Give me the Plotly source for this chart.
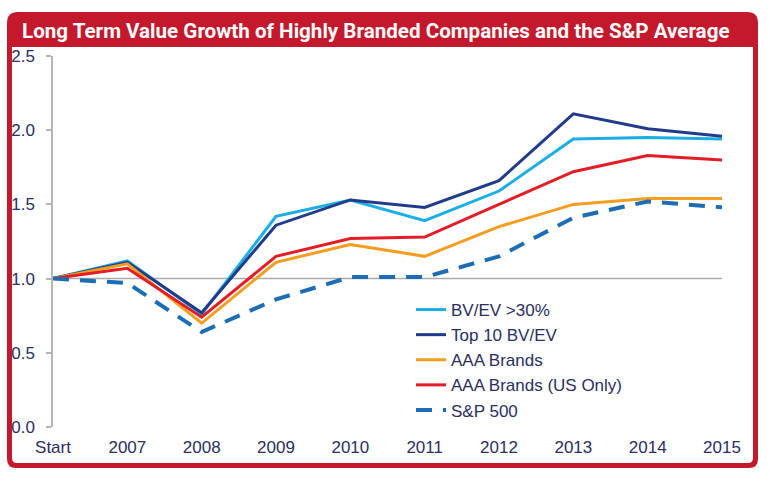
import plotly.graph_objects as go

categories = ["Start", "2007", "2008", "2009", "2010", "2011", "2012", "2013", "2014", "2015"]
bvev_30 = [1.00, 1.12, 0.76, 1.42, 1.53, 1.39, 1.59, 1.94, 1.95, 1.94]
top10_bvev = [1.00, 1.11, 0.77, 1.36, 1.53, 1.48, 1.66, 2.11, 2.01, 1.96]
aaa_brands = [1.00, 1.10, 0.70, 1.11, 1.23, 1.15, 1.35, 1.50, 1.54, 1.54]
aaa_brands_us = [1.00, 1.07, 0.74, 1.15, 1.27, 1.28, 1.50, 1.72, 1.83, 1.80]
sp500 = [1.00, 0.97, 0.64, 0.86, 1.01, 1.01, 1.15, 1.41, 1.52, 1.48]
y_ticks = [0.0, 0.5, 1.0, 1.5, 2.0, 2.5]

W, H = 770, 482
L, R, T, B = 53, 48, 56, 55
PW, PH = W - L - R, H - T - B

def px(x):
    return (x - L) / PW

def py(y):
    return (H - B - y) / PH

def rrect(x0, y0, x1, y1, rt, rb):
    p = (f"M {px(x0 + rt)},{py(y0)} L {px(x1 - rt)},{py(y0)} "
         f"Q {px(x1)},{py(y0)} {px(x1)},{py(y0 + rt)} "
         f"L {px(x1)},{py(y1 - rb)} Q {px(x1)},{py(y1)} {px(x1 - rb)},{py(y1)} "
         f"L {px(x0 + rb)},{py(y1)} Q {px(x0)},{py(y1)} {px(x0)},{py(y1 - rb)} "
         f"L {px(x0)},{py(y0 + rt)} Q {px(x0)},{py(y0)} {px(x0 + rt)},{py(y0)} Z")
    return p

series = [
    ("BV/EV >30%", bvev_30, "#1aaee5", "solid", 3),
    ("Top 10 BV/EV", top10_bvev, "#213b8c", "solid", 3),
    ("AAA Brands", aaa_brands, "#f59d1f", "solid", 3),
    ("AAA Brands (US Only)", aaa_brands_us, "#e31c25", "solid", 3),
    ("S&P 500", sp500, "#1c6db4", "16px,11px", 4),
]

fig = go.Figure()
for name, vals, color, dash, w in series:
    fig.add_trace(go.Scatter(x=categories, y=vals, mode="lines", name=name,
                             line=dict(color=color, width=w, dash=dash)))

shapes = [
    dict(type="path", xref="paper", yref="paper", path=rrect(7, 12, 758, 468, 11, 9),
         fillcolor="#c4182c", line=dict(width=0), layer="below"),
    dict(type="path", xref="paper", yref="paper", path=rrect(12, 47, 753, 463, 0, 5),
         fillcolor="white", line=dict(width=0), layer="below"),
    dict(type="line", xref="x", yref="y", x0=0, x1=9, y0=1, y1=1,
         line=dict(color="#aaaaaa", width=1.5), layer="below"),
]

fig.update_layout(
    width=W, height=H,
    margin=dict(l=L, r=R, t=T, b=B),
    paper_bgcolor="white",
    plot_bgcolor="rgba(0,0,0,0)",
    shapes=shapes,
    showlegend=True,
    legend=dict(x=px(411), y=py(292), xanchor="left", yanchor="top",
                bgcolor="rgba(0,0,0,0)",
                font=dict(family="Liberation Sans, Arial, sans-serif", size=17, color="#2b2e5e"),
                tracegroupgap=0),
    annotations=[dict(text="<b>Long Term Value Growth of Highly Branded Companies and the S&P Average</b>",
                      xref="paper", yref="paper", x=px(20), y=py(31), xanchor="left", yanchor="middle",
                      showarrow=False,
                      font=dict(family="Roboto, Lato, sans-serif", size=20.6, color="white"))],
    font=dict(family="Liberation Sans, Arial, sans-serif", size=17, color="#2b2e5e"),
)

fig.update_xaxes(type="category", range=[0, 9], showgrid=False, showline=False, zeroline=False,
                 ticks="", tickfont=dict(size=17, color="#2b2e5e"), ticklabelstandoff=8)
fig.update_yaxes(range=[0, 2.5], tickvals=y_ticks, ticktext=[f"{v:.1f}" for v in y_ticks],
                 showgrid=False, zeroline=False, showline=True, linecolor="#b5b5b5", linewidth=1.5,
                 ticks="outside", ticklen=5, tickcolor="#b5b5b5", tickwidth=1.5,
                 tickfont=dict(size=17, color="#2b2e5e"), ticklabelstandoff=8)

fig.write_html("out.html", config={"displayModeBar": False},
               post_script="document.body.style.margin='0';")
